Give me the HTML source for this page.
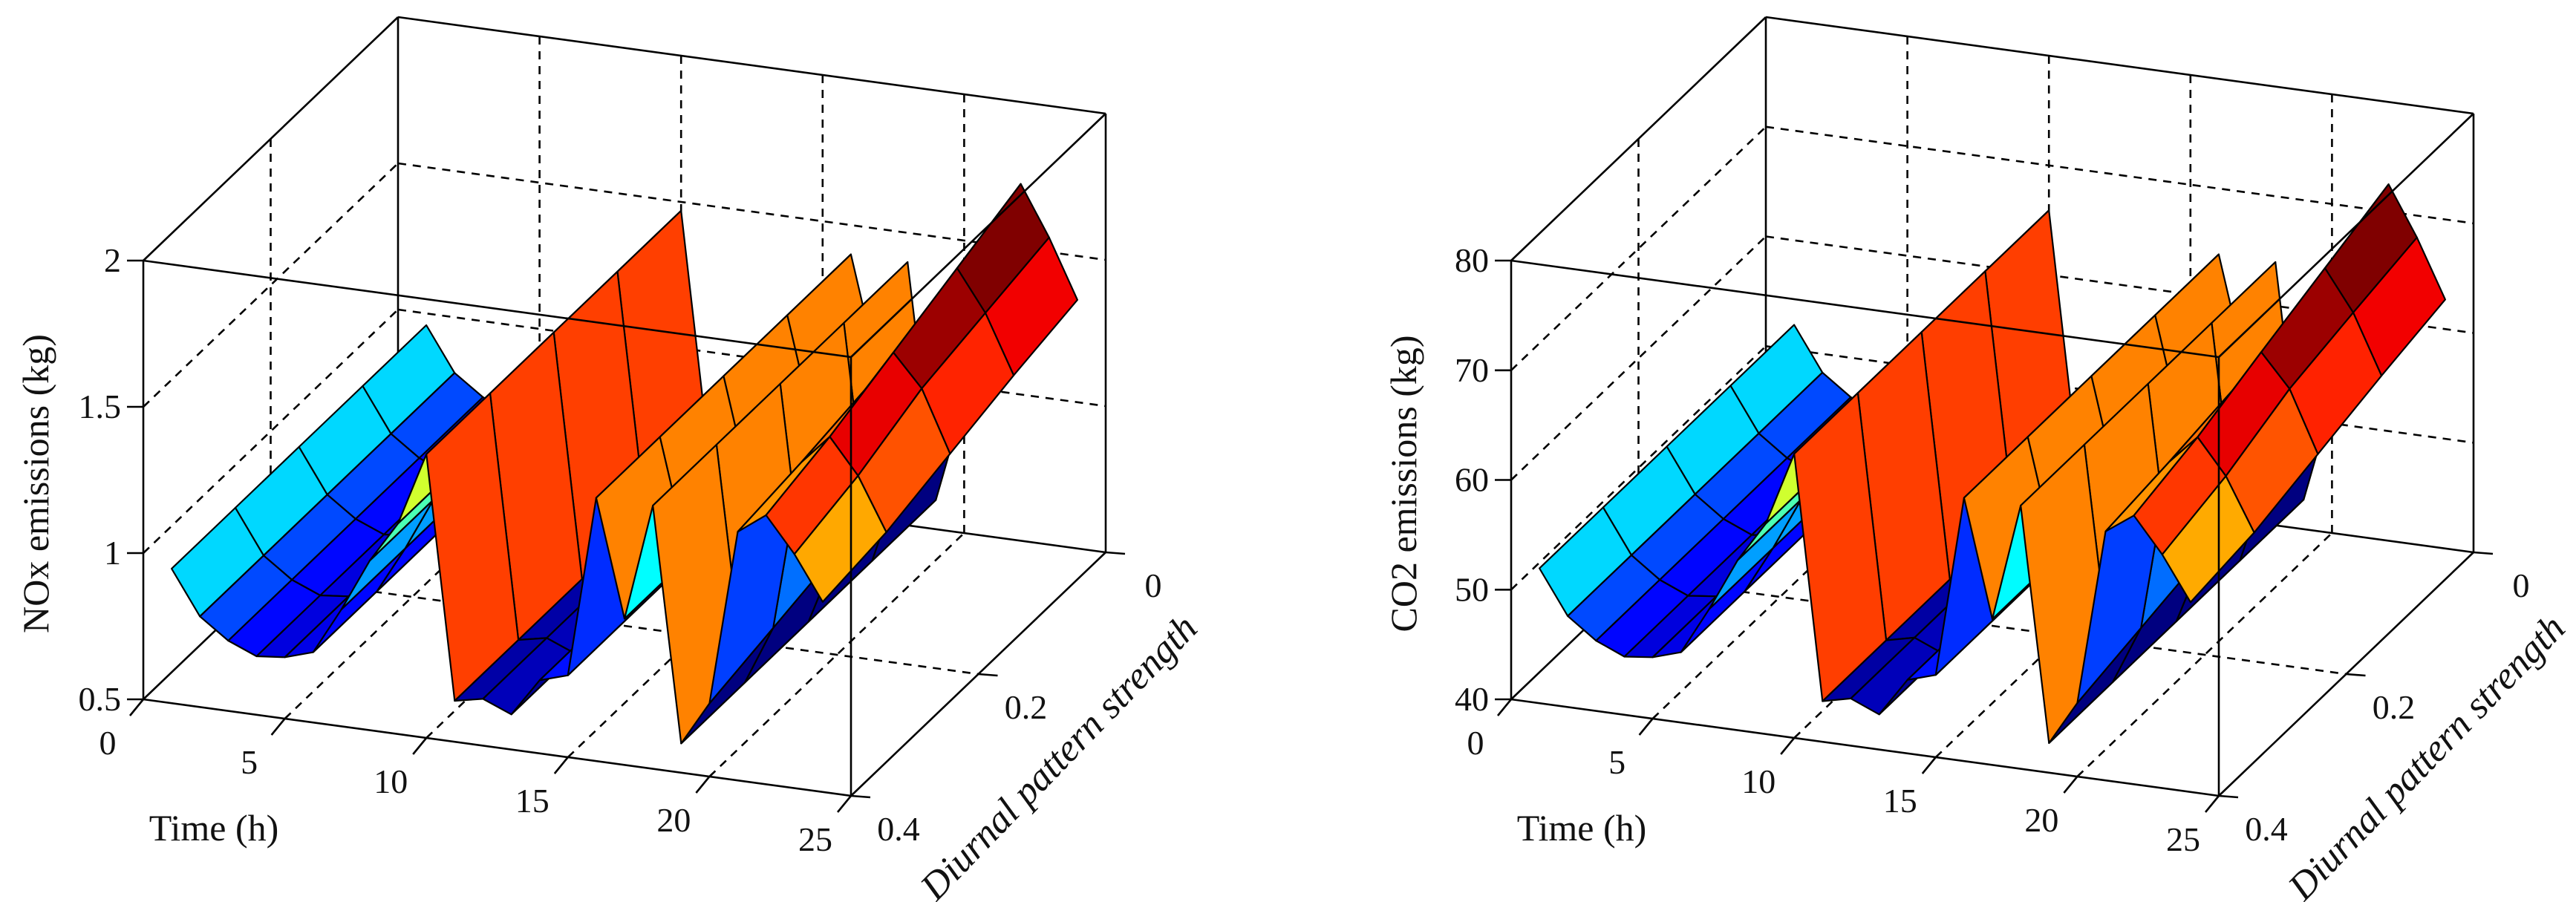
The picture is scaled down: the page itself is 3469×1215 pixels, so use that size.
<!DOCTYPE html>
<html><head><meta charset="utf-8"><style>
html,body{margin:0;padding:0;background:#fff;}
svg{display:block;}
text{font-family:"Liberation Serif","DejaVu Serif",serif;}
</style></head><body>
<svg id="fig" width="3469" height="1215" viewBox="0 0 3469 1215" xmlns="http://www.w3.org/2000/svg">
<g id="chartA"></g>
<g id="chartB"></g>
</svg>
<script>
// ---- data ----
const timeHours = [1,2,3,4,5,6,7,8,9,10,11,12,13,14,15,16,17,18,19,20,21,22,23,24];
const diurnalLevels = [0, 0.1, 0.2, 0.3, 0.4];
const timeTicks = [0,5,10,15,20,25];
const diurnalTicks = [0, 0.2, 0.4];
const noxTicks = [0.5, 1, 1.5, 2];
const co2Ticks = [40, 50, 60, 70, 80];

const noxD00 = [0.96,0.81,0.74,0.70,0.71,0.74,0.90,1.08,1.22,1.47,0.64,0.66,0.62,0.75,0.78,1.40,1.00,1.40,0.60,0.95,1.50,1.72,1.55,1.35];
const noxD01 = [0.96,0.81,0.74,0.70,0.71,0.74,0.90,1.08,1.22,1.47,0.64,0.66,0.62,0.75,0.78,1.40,1.00,1.40,0.60,0.90,1.46,1.64,1.50,1.30];
const noxD02 = [0.96,0.81,0.74,0.70,0.71,0.74,0.90,1.08,1.22,1.47,0.64,0.66,0.62,0.75,0.78,1.40,1.00,1.40,0.60,0.85,1.42,1.56,1.45,1.24];
const noxD03 = [0.96,0.81,0.74,0.70,0.71,0.74,0.90,1.08,1.22,1.47,0.64,0.66,0.62,0.75,0.78,1.40,1.00,1.40,0.60,0.80,1.38,1.48,1.36,1.18];
const noxD04 = [0.96,0.81,0.74,0.70,0.71,0.74,0.90,1.08,1.22,1.47,0.64,0.66,0.62,0.75,0.78,1.40,1.00,1.40,0.60,0.75,1.35,1.42,1.30,1.15];

const co2D00 = [52.3,48.3,46.4,45.3,45.6,46.4,50.7,55.5,59.2,65.9,43.7,44.3,43.2,46.7,47.5,64.0,53.3,64.0,42.7,52.0,66.7,72.5,68.0,62.7];
const co2D01 = [52.3,48.3,46.4,45.3,45.6,46.4,50.7,55.5,59.2,65.9,43.7,44.3,43.2,46.7,47.5,64.0,53.3,64.0,42.7,50.7,65.6,70.4,66.7,61.3];
const co2D02 = [52.3,48.3,46.4,45.3,45.6,46.4,50.7,55.5,59.2,65.9,43.7,44.3,43.2,46.7,47.5,64.0,53.3,64.0,42.7,49.3,64.5,68.3,65.3,59.7];
const co2D03 = [52.3,48.3,46.4,45.3,45.6,46.4,50.7,55.5,59.2,65.9,43.7,44.3,43.2,46.7,47.5,64.0,53.3,64.0,42.7,48.0,63.5,66.1,62.9,58.1];
const co2D04 = [52.3,48.3,46.4,45.3,45.6,46.4,50.7,55.5,59.2,65.9,43.7,44.3,43.2,46.7,47.5,64.0,53.3,64.0,42.7,46.7,62.7,64.5,61.3,57.3];

const NS = "http://www.w3.org/2000/svg";
function el(tag, attrs, parent){
  const e = document.createElementNS(NS, tag);
  for (const k in attrs) e.setAttribute(k, attrs[k]);
  parent.appendChild(e);
  return e;
}
function jet(x){
  x = Math.max(0, Math.min(1, x));
  const c = v => Math.round(255*Math.max(0, Math.min(1, v)));
  return `rgb(${c(1.5-Math.abs(4*x-3))},${c(1.5-Math.abs(4*x-2))},${c(1.5-Math.abs(4*x-1))})`;
}
const FONT = '"Liberation Serif", "DejaVu Serif", serif';

function drawChart(g, ox, zmin, zmax, rows, zTicks, zLabel, cmin, cmax, prefix){
  const T = [953/25, 130/25], U = [343/0.4, -328/0.4], ZH = 591, oy = 942;
  function P(t, d, z){
    const u = 0.4 - d;
    return [ox + T[0]*t + U[0]*u, oy + T[1]*t + U[1]*u - (z - zmin)/(zmax - zmin)*ZH];
  }
  function line(a, b, dashed, name, w){
    const l = el('line', {x1:a[0].toFixed(1), y1:a[1].toFixed(1), x2:b[0].toFixed(1), y2:b[1].toFixed(1),
      stroke:'#000', 'stroke-width': w || 2.6, 'stroke-dasharray': dashed ? '11 9' : 'none'}, g);
    
    
    return l;
  }
  line(P(0,0,zmin), P(0,0,zmax), false, prefix+'box-back-left-edge');
  line(P(0,0,zmin), P(25,0,zmin), false, prefix+'box-floor-back-edge');
  line(P(0,0.4,zmin), P(0,0,zmin), false, prefix+'box-floor-left-edge');
  line(P(0,0,zmax), P(25,0,zmax), false, prefix+'box-top-back-edge');
  line(P(0,0.4,zmax), P(0,0,zmax), false, prefix+'box-top-left-edge');
  line(P(25,0,zmin), P(25,0,zmax), false, prefix+'box-back-right-edge');
  timeTicks.slice(1,-1).forEach(t=>{
    line(P(t,0,zmin), P(t,0,zmax), true, prefix+'grid-back-time');
    line(P(t,0.4,zmin), P(t,0,zmin), true, prefix+'grid-floor-time');
  });
  zTicks.slice(1,-1).forEach(z=>{
    line(P(0,0,z), P(25,0,z), true, prefix+'grid-back-z');
    line(P(0,0.4,z), P(0,0,z), true, prefix+'grid-side-z');
  });
  line(P(0,0.2,zmin), P(0,0.2,zmax), true, prefix+'grid-side-diurnal');
  line(P(0,0.2,zmin), P(25,0.2,zmin), true, prefix+'grid-floor-diurnal');

  const faces = [];
  for (let j=0;j<diurnalLevels.length-1;j++){
    for (let i=0;i<timeHours.length-1;i++){
      const t0=timeHours[i], t1=timeHours[i+1], d0=diurnalLevels[j], d1=diurnalLevels[j+1];
      const z00=rows[j][i], z10=rows[j][i+1], z11=rows[j+1][i+1], z01=rows[j+1][i];
      const depth = T[1]*(t0+t1)/2 + U[1]*(0.4-(d0+d1)/2);
      faces.push({pts:[P(t0,d0,z00),P(t1,d0,z10),P(t1,d1,z11),P(t0,d1,z01)], zc:z00, depth});
    }
  }
  faces.sort((a,b)=>a.depth-b.depth);
  const sg = el('g', {}, g);
  
  
  faces.forEach(f=>{
    const p = el('polygon', {points:f.pts.map(q=>q[0].toFixed(1)+','+q[1].toFixed(1)).join(' '),
      fill:jet((f.zc-cmin)/(cmax-cmin)), stroke:'#000', 'stroke-width':2.2, 'stroke-linejoin':'round'}, sg);
    
    
  });

  line(P(0,0.4,zmin), P(0,0.4,zmax), false, prefix+'z-axis-line');
  line(P(0,0.4,zmin), P(25,0.4,zmin), false, prefix+'time-axis-line');
  line(P(25,0.4,zmin), P(25,0,zmin), false, prefix+'diurnal-axis-line');
  line(P(0,0.4,zmax), P(25,0.4,zmax), false, prefix+'box-top-front-edge');
  line(P(25,0.4,zmax), P(25,0,zmax), false, prefix+'box-top-right-edge');
  line(P(25,0.4,zmin), P(25,0.4,zmax), false, prefix+'box-front-right-edge');

  zTicks.forEach(z=>{
    const a = P(0,0.4,z);
    line([a[0]-22,a[1]], a, false, prefix+'z-tick');
    const tx = el('text', {x:a[0]-30, y:a[1]+15, 'font-size':46, 'text-anchor':'end', fill:'#111', 'font-family':FONT}, g);
    tx.textContent = z;
    
    
  });
  timeTicks.forEach(t=>{
    const a = P(t,0.4,zmin);
    line(a, [a[0]-18,a[1]+22], false, prefix+'time-tick');
    const tx = el('text', {x:a[0]-48, y:a[1]+74, 'font-size':46, 'text-anchor':'middle', fill:'#111', 'font-family':FONT}, g);
    tx.textContent = t;
    
    
  });
  diurnalTicks.forEach(d=>{
    const a = P(25,d,zmin);
    line(a, [a[0]+26,a[1]+2], false, prefix+'diurnal-tick');
    const tx = el('text', {x:a[0]+64, y:a[1]+60, 'font-size':46, 'text-anchor':'middle', fill:'#111', 'font-family':FONT}, g);
    tx.textContent = d;
    
    
  });
  const zm = P(0,0.4,(zmin+zmax)/2);
  const zl = el('text', {x:0, y:0, 'font-size':50, 'text-anchor':'middle', fill:'#111', 'font-family':FONT,
    transform:`translate(${zm[0]-128},${zm[1]+5}) rotate(-90)`}, g);
  zl.textContent = zLabel;
  
  
  const tl = el('text', {x:ox+95, y:oy+190, 'font-size':50, 'text-anchor':'middle', fill:'#111', 'font-family':FONT}, g);
  tl.textContent = 'Time (h)';
  
  
  const fr = P(25,0.4,zmin);
  const dl = el('text', {x:0, y:0, 'font-size':52, 'text-anchor':'middle', fill:'#111', 'font-style':'italic', 'font-family':FONT,
    transform:`translate(${fr[0]+292},${fr[1]-40}) rotate(-46)`}, g);
  dl.textContent = 'Diurnal pattern strength';
  
  
}

drawChart(document.getElementById('chartA'), 193, 0.5, 2,
  [noxD00, noxD01, noxD02, noxD03, noxD04], noxTicks, 'NOx emissions (kg)', 0.6, 1.67, 'nox-');
drawChart(document.getElementById('chartB'), 2035, 40, 80,
  [co2D00, co2D01, co2D02, co2D03, co2D04], co2Ticks, 'CO2 emissions (kg)', 42.7, 71.2, 'co2-');
</script>
</body></html>
